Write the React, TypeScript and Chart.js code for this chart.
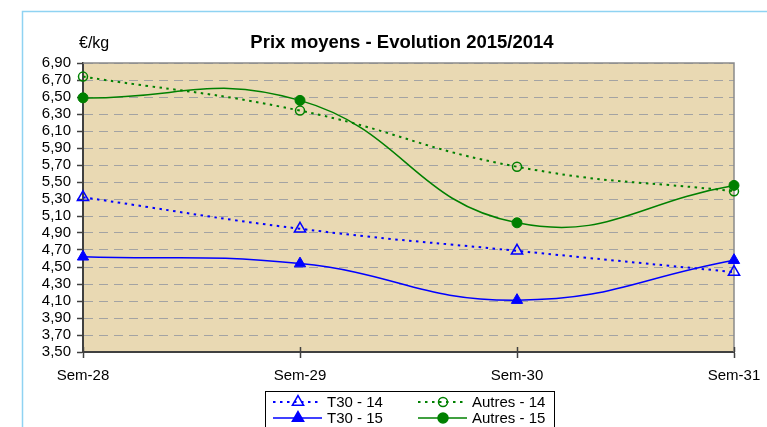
import React, { useEffect, useRef } from "react";
import { Chart, registerables } from "chart.js";

Chart.register(...registerables);

const categories = ["Sem-28", "Sem-29", "Sem-30", "Sem-31"];
const t30_14 = [5.32, 4.95, 4.69, 4.44];
const t30_15 = [4.62, 4.54, 4.11, 4.58];
const autres_14 = [6.74, 6.34, 5.68, 5.39];
const autres_15 = [6.49, 6.46, 5.02, 5.46];
const yMin = 3.5;
const yMax = 6.9;
const yStep = 0.2;
const titleText = "Prix moyens - Evolution 2015/2014";
const unitText = "€/kg";
const seriesNames = ["T30 - 14", "T30 - 15", "Autres - 14", "Autres - 15"];

const FONT = "'Liberation Sans', Arial, sans-serif";
const BLUE = "#0000FF";
const GREEN = "#008000";
const DOT = [2.5, 4.5];

function drawMarker(ctx: CanvasRenderingContext2D, style: string, x: number, y: number, r: number, filled: boolean, color: string) {
  ctx.save();
  ctx.beginPath();
  if (style === "triangle") {
    let rad = 0;
    ctx.moveTo(x + Math.sin(rad) * r, y - Math.cos(rad) * r);
    rad += (2 * Math.PI) / 3;
    ctx.lineTo(x + Math.sin(rad) * r, y - Math.cos(rad) * r);
    rad += (2 * Math.PI) / 3;
    ctx.lineTo(x + Math.sin(rad) * r, y - Math.cos(rad) * r);
    ctx.closePath();
  } else {
    ctx.arc(x, y, r, 0, Math.PI * 2);
  }
  ctx.setLineDash([]);
  ctx.lineWidth = 1.5;
  ctx.strokeStyle = color;
  if (filled) {
    ctx.fillStyle = color;
    ctx.fill();
  }
  ctx.stroke();
  ctx.restore();
}

const decorPlugin = {
  id: "decor",
  beforeDraw(chart: any) {
    const { ctx, chartArea } = chart;
    ctx.save();
    ctx.fillStyle = "#ffffff";
    ctx.fillRect(0, 0, chart.width, chart.height);
    ctx.strokeStyle = "#8fd3f2";
    ctx.lineWidth = 1.5;
    ctx.beginPath();
    ctx.moveTo(22.5, chart.height + 2);
    ctx.lineTo(22.5, 11.5);
    ctx.lineTo(chart.width + 2, 11.5);
    ctx.stroke();
    ctx.fillStyle = "#e9d9b3";
    ctx.fillRect(chartArea.left, chartArea.top, chartArea.right - chartArea.left, chartArea.bottom - chartArea.top);
    ctx.restore();
  },
  beforeDatasetsDraw(chart: any) {
    const { ctx, chartArea } = chart;
    ctx.save();
    ctx.strokeStyle = "#8a8a8a";
    ctx.lineWidth = 1.5;
    ctx.setLineDash([]);
    ctx.beginPath();
    ctx.moveTo(chartArea.left, chartArea.top);
    ctx.lineTo(chartArea.right, chartArea.top);
    ctx.lineTo(chartArea.right, chartArea.bottom);
    ctx.stroke();
    const xs = chart.scales.x;
    ctx.strokeStyle = "#404040";
    ctx.lineWidth = 1.5;
    categories.forEach((_, i) => {
      const px = Math.round(xs.getPixelForTick(i)) + 0.5;
      ctx.beginPath();
      ctx.moveTo(px, chartArea.bottom - 5);
      ctx.lineTo(px, chartArea.bottom);
      ctx.stroke();
    });
    ctx.restore();
  },
  afterDraw(chart: any) {
    const { ctx } = chart;
    ctx.save();
    ctx.fillStyle = "#000";
    ctx.textBaseline = "alphabetic";
    ctx.textAlign = "center";
    ctx.font = `bold 18.5px ${FONT}`;
    ctx.fillText(titleText, 402, 48);
    ctx.textAlign = "left";
    ctx.font = `16px ${FONT}`;
    ctx.fillText(unitText, 79, 48);

    const bx = 265.5, by = 391.5, bw = 289, bh = 45;
    ctx.fillStyle = "#ffffff";
    ctx.fillRect(bx, by, bw, bh);
    ctx.strokeStyle = "#000";
    ctx.lineWidth = 1;
    ctx.strokeRect(bx, by, bw, bh);

    const items = [
      { name: seriesNames[0], color: BLUE, dash: DOT, style: "triangle", filled: false, r: 6.5, x: 273, y: 402 },
      { name: seriesNames[1], color: BLUE, dash: [], style: "triangle", filled: true, r: 6.5, x: 273, y: 418 },
      { name: seriesNames[2], color: GREEN, dash: DOT, style: "circle", filled: false, r: 4.5, x: 418, y: 402 },
      { name: seriesNames[3], color: GREEN, dash: [], style: "circle", filled: true, r: 5, x: 418, y: 418 },
    ];
    items.forEach((it) => {
      ctx.save();
      ctx.strokeStyle = it.color;
      ctx.lineWidth = it.dash.length ? 2 : 1.5;
      ctx.setLineDash(it.dash);
      ctx.beginPath();
      ctx.moveTo(it.x, it.y);
      ctx.lineTo(it.x + 49, it.y);
      ctx.stroke();
      ctx.restore();
      drawMarker(ctx, it.style, it.x + 25, it.y, it.r, it.filled, it.color);
      ctx.fillStyle = "#000";
      ctx.font = `15px ${FONT}`;
      ctx.textAlign = "left";
      ctx.textBaseline = "middle";
      ctx.fillText(it.name, it.x + 54, it.y + 1);
    });
    ctx.restore();
  },
};

export default function App() {
  const ref = useRef<HTMLCanvasElement | null>(null);

  useEffect(() => {
    document.body.style.margin = "0";
    if (!ref.current) return;
    const chart = new Chart(ref.current, {
      type: "line",
      data: {
        labels: categories,
        datasets: [
          {
            label: seriesNames[0],
            data: t30_14,
            borderColor: BLUE,
            backgroundColor: "rgba(0,0,0,0)",
            borderWidth: 2,
            borderDash: DOT,
            pointStyle: "triangle",
            pointRadius: 6.5,
            pointBorderWidth: 1.5,
            pointBorderColor: BLUE,
            pointBackgroundColor: "rgba(0,0,0,0)",
            tension: 0.45,
            clip: false as any,
          },
          {
            label: seriesNames[1],
            data: t30_15,
            borderColor: BLUE,
            backgroundColor: BLUE,
            borderWidth: 1.5,
            pointStyle: "triangle",
            pointRadius: 6.5,
            pointBorderWidth: 1,
            pointBorderColor: BLUE,
            pointBackgroundColor: BLUE,
            tension: 0.45,
            clip: false as any,
          },
          {
            label: seriesNames[2],
            data: autres_14,
            borderColor: GREEN,
            backgroundColor: "rgba(0,0,0,0)",
            borderWidth: 2,
            borderDash: DOT,
            pointStyle: "circle",
            pointRadius: 4.5,
            pointBorderWidth: 1.5,
            pointBorderColor: GREEN,
            pointBackgroundColor: "rgba(0,0,0,0)",
            tension: 0.45,
            clip: false as any,
          },
          {
            label: seriesNames[3],
            data: autres_15,
            borderColor: GREEN,
            backgroundColor: GREEN,
            borderWidth: 1.5,
            pointStyle: "circle",
            pointRadius: 5,
            pointBorderWidth: 1,
            pointBorderColor: GREEN,
            pointBackgroundColor: GREEN,
            tension: 0.45,
            clip: false as any,
          },
        ],
      },
      options: {
        animation: false,
        responsive: false,
        maintainAspectRatio: false,
        layout: { padding: { top: 63, left: 0, right: 33, bottom: 0 } },
        plugins: {
          legend: { display: false },
          title: { display: false },
          tooltip: { enabled: false },
        },
        scales: {
          x: {
            type: "category",
            offset: false,
            afterFit: (s: any) => {
              s.height = 75;
              s.paddingLeft = 0;
              s.paddingRight = 0;
            },
            grid: {
              drawOnChartArea: false,
              drawTicks: true,
              tickLength: 6,
              tickColor: "#404040",
              tickWidth: 1.5,
            },
            border: { display: true, color: "#404040", width: 2 },
            ticks: {
              color: "#000",
              font: { family: FONT, size: 15 },
              padding: 9,
              maxRotation: 0,
              autoSkip: false,
            },
          },
          y: {
            min: yMin,
            max: yMax,
            afterFit: (s: any) => {
              s.width = 83;
              s.paddingTop = 0;
              s.paddingBottom = 0;
            },
            grid: {
              color: "#a3a3a3",
              lineWidth: 1,
              drawTicks: true,
              tickLength: 6,
              tickColor: "#404040",
              tickWidth: 1.5,
              tickBorderDash: [],
            },
            border: { display: true, color: "#404040", width: 2, dash: [9, 6] },
            ticks: {
              stepSize: yStep,
              autoSkip: false,
              color: "#000",
              font: { family: FONT, size: 15 },
              padding: 6,
              callback: (v: any) => Number(v).toFixed(2).replace(".", ","),
            },
          },
        },
      },
      plugins: [decorPlugin],
    } as any);
    return () => chart.destroy();
  }, []);

  return (
    <div style={{ position: "absolute", left: 0, top: 0, width: 767, height: 427 }}>
      <canvas ref={ref} width={767} height={427} style={{ width: 767, height: 427, display: "block" }} />
    </div>
  );
}
